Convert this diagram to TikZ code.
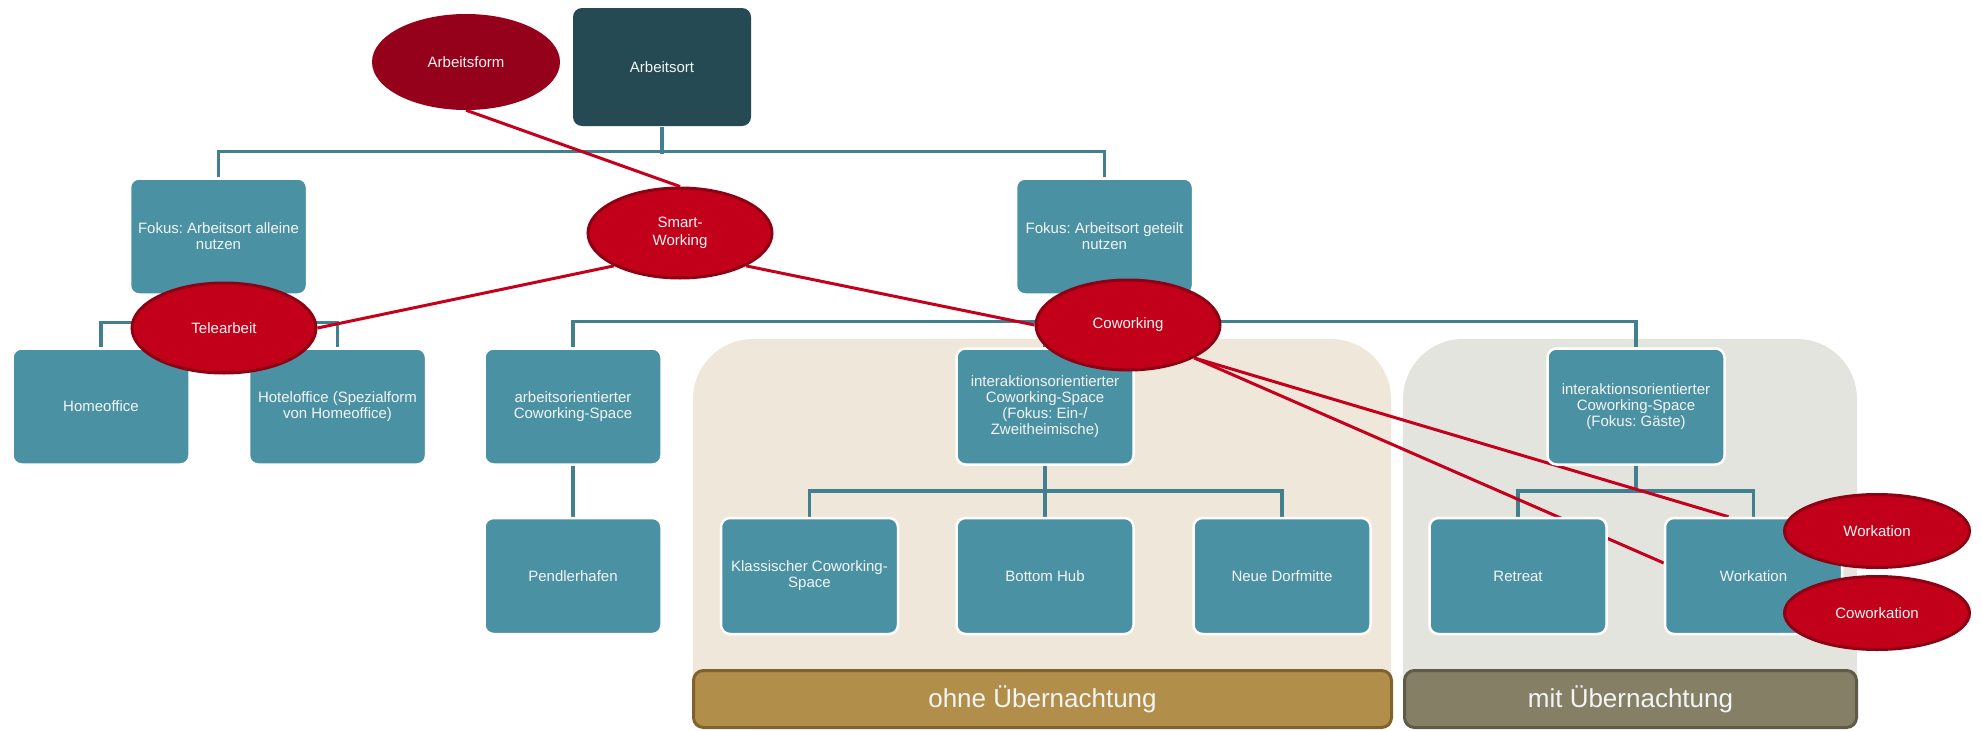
\documentclass[tikz,border=0pt]{standalone}
\usepackage{fontspec}
\setmainfont{Liberation Sans}
\usetikzlibrary{shapes.geometric}
\frenchspacing
\definecolor{boxfill}{HTML}{4B91A4}
\definecolor{darkbox}{HTML}{264A53}
\definecolor{connc}{HTML}{42808F}
\definecolor{redfill}{HTML}{C20019}
\definecolor{redborder}{HTML}{8E0013}
\definecolor{afill}{HTML}{95001A}
\definecolor{redline}{HTML}{C4001C}
\definecolor{beigec}{HTML}{EFE8DA}
\definecolor{greyc}{HTML}{E4E4DF}
\definecolor{ohnefill}{HTML}{B18F4A}
\definecolor{ohnedraw}{HTML}{80622F}
\definecolor{mitfill}{HTML}{857F66}
\definecolor{mitdraw}{HTML}{5E5B48}
\definecolor{txt}{HTML}{F3F5F5}
\pgfdeclarelayer{regions}
\pgfdeclarelayer{conn}
\pgfdeclarelayer{redl}
\pgfsetlayers{regions,conn,redl,main}
\begin{document}
\frenchspacing
\begin{tikzpicture}[x=1pt,y=-1pt,
  box/.style={rectangle, rounded corners=9pt, fill=boxfill, draw=white, line width=2.5pt,
    minimum width=177pt, minimum height=116pt, inner sep=2pt, align=center, text=txt,
    font=\fontsize{15}{16}\selectfont\frenchspacing},
  redell/.style={ellipse, fill=redfill, draw=redborder, line width=3pt,
    minimum width=184pt, minimum height=90pt, inner sep=0pt, align=center, text=txt,
    font=\fontsize{15}{18}\selectfont},
  connline/.style={draw=connc, line width=3.5pt, line join=miter},
  redln/.style={draw=redline, line width=3pt},
  band/.style={rectangle, rounded corners=10pt, line width=3pt, minimum height=57pt,
    inner sep=0pt, text=txt, font=\fontsize{26}{30}\selectfont}
]
\useasboundingbox (0,0) rectangle (1982,731);

% top level
\node[ellipse, fill=afill, minimum width=188pt, minimum height=96pt, inner sep=0pt,
  text=txt, font=\fontsize{15}{18}\selectfont] (af) at (466,62) {Arbeitsform};
\node[box, fill=darkbox, draw=none, minimum width=178pt, minimum height=118pt] (ort) at (662,67) {Arbeitsort};

% level 2
\node[box] (fa) at (218.5,236.5) {Fokus: Arbeitsort alleine\\nutzen};
\node[box] (fg) at (1104.5,236.5) {Fokus: Arbeitsort geteilt\\nutzen};

% level 3
\node[box] (home) at (101,406.5) {Homeoffice};
\node[box] (hotel) at (337.5,406.5) {Hoteloffice (Spezialform\\von Homeoffice)};
\node[box] (arb) at (573,406.5) {arbeitsorientierter\\Coworking-Space};
\node[box] (ez) at (1045,406.5) {interaktionsorientierter\\Coworking-Space\\(Fokus: Ein-/\\Zweitheimische)};
\node[box] (gast) at (1636,406.5) {interaktionsorientierter\\Coworking-Space\\(Fokus: Gäste)};

% level 4
\node[box] (pend) at (573,576) {Pendlerhafen};
\node[box] (klass) at (809.5,576) {Klassischer Coworking-\\Space};
\node[box] (hub) at (1045,576) {Bottom Hub};
\node[box] (dorf) at (1282,576) {Neue Dorfmitte};
\node[box] (retreat) at (1518,576) {Retreat};
\node[box] (wbox) at (1753.5,576) {Workation};

% bands
\node[band, fill=ohnefill, draw=ohnedraw, minimum width=698pt] (ohne) at (1042.5,699) {ohne Übernachtung};
\node[band, fill=mitfill, draw=mitdraw, minimum width=452pt] (mit) at (1630.5,699) {mit Übernachtung};

% red ellipses
\node[redell] (smart) at (680,233) {Smart-\\Working};
\node[redell] (tele) at (224,328) {Telearbeit};
\node[redell] (cow) at (1128,325) {Coworking};
\node[redell, minimum width=185pt, minimum height=73pt] (wel) at (1877,531) {Workation};
\node[redell, minimum width=185pt, minimum height=73pt] (cwel) at (1877,613) {Coworkation};

% regions
\begin{pgfonlayer}{regions}
  \fill[beigec, rounded corners=60pt] (693,339) rectangle (1391,729);
  \fill[greyc, rounded corners=60pt] (1403,339) rectangle (1857,729);
\end{pgfonlayer}

% org connectors
\begin{pgfonlayer}{conn}
  \draw[connline] (ort.south) -- ++(0,26.5);
  \draw[connline] (fa.north) -- ++(0,-26) -| (fg.north);
  \draw[connline] (fa.south) -- ++(0,27);
  \draw[connline] (home.north) -- ++(0,-25) -| (hotel.north);
  \draw[connline] (fg.south) -- ++(0,27);
  \draw[connline] (arb.north) -- ++(0,-26) -| (gast.north);
  \draw[connline] (ez.north) -- ++(0,-26);
  \draw[connline] (arb.south) -- (pend.north);
  \draw[connline] (klass.north) -- ++(0,-26) -| (dorf.north);
  \draw[connline] (ez.south) -- (hub.north);
  \draw[connline] (retreat.north) -- ++(0,-26) -| (wbox.north);
  \draw[connline] (gast.south) -- ++(0,27);
\end{pgfonlayer}

% red relation lines
\begin{pgfonlayer}{redl}
  \draw[redln] (af.south) -- (smart.north);
  \draw[redln] (smart.south west) -- (tele.east);
  \draw[redln] (smart.south east) -- (cow.west);
  \draw[redln] (cow.south east) -- ([xshift=-25pt]wbox.north);
  \draw[redln] (cow.south east) -- ([yshift=13pt]wbox.west);
\end{pgfonlayer}
\end{tikzpicture}
\end{document}
